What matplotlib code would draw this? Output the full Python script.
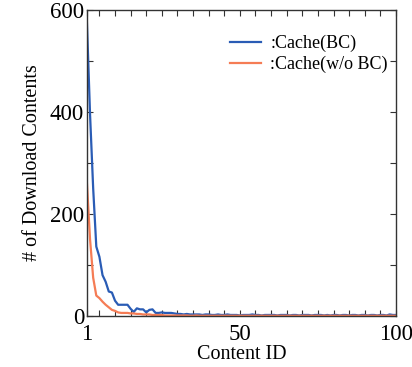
import numpy as np
import matplotlib
matplotlib.use('Agg')
import matplotlib.pyplot as plt
from matplotlib.ticker import MultipleLocator

# ==============================================================================
# Data (Content ID 1..100)
# ==============================================================================
content_id = np.arange(1, 101)

cache_bc = np.array([
    575, 395, 250, 136, 116, 80, 67, 48, 46, 30,
    22, 22, 22, 22, 14, 8, 15, 13, 13, 7,
    12, 13, 6, 6, 7, 6, 6, 6, 5, 4,
    4, 3, 4, 3, 3, 3, 3, 2, 3, 3,
    2, 2, 3, 2, 2, 3, 2, 2, 2, 1,
    2, 2, 2, 3, 2, 2, 1, 2, 2, 2,
    2, 1, 2, 2, 2, 1, 2, 2, 1, 2,
    2, 2, 1, 2, 2, 2, 1, 2, 1, 2,
    2, 1, 2, 2, 1, 2, 2, 1, 2, 2,
    1, 2, 2, 1, 2, 2, 1, 3, 2, 2,
], dtype=float)

cache_wo_bc = np.array([
    260, 150, 75, 40, 35, 28, 22, 17, 12, 10,
    7, 6, 6, 6, 5, 5, 4, 4, 3, 3,
    3, 2, 2, 2, 2, 1, 1, 1, 1, 1,
    1, 1, 1, 0.5, 0.5, 1, 0.5, 0.5, 0.5, 0.5,
    0.5, 0.5, 0.5, 0.5, 0.5, 0.5, 0.5, 0.5, 0.5, 0.5,
    0.5, 0.5, 0.5, 0.5, 0.5, 0.5, 0.5, 0.5, 0.5, 0.5,
    0.5, 0.5, 0.5, 0.5, 0.5, 0.5, 0.5, 0.5, 0.5, 0.5,
    0.5, 0.5, 0.5, 0.5, 0.5, 0.5, 0.5, 0.5, 0.5, 0.5,
    0.5, 0.5, 0.5, 0.5, 0.5, 0.5, 0.5, 0.5, 0.5, 0.5,
    0.5, 0.5, 0.5, 0.5, 0.5, 0.5, 0.5, 0.5, 0.5, 0.5,
])

x_ticks = [1, 50, 100]
y_ticks = [0, 200, 400, 600]

# ==============================================================================
# Plot
# ==============================================================================
plt.rcParams['font.family'] = ['Liberation Serif', 'DejaVu Serif']

fig = plt.figure(figsize=(4.12, 3.67), dpi=100)
ax = fig.add_axes([0.211, 0.139, 0.750, 0.834])

ax.plot(content_id, cache_bc, color='#2a5cb5', linewidth=1.6, label=':Cache(BC)')
ax.plot(content_id, cache_wo_bc, color='#f57c55', linewidth=1.6, label=':Cache(w/o BC)')

ax.set_xlim(1, 100)
ax.set_ylim(0, 600)
ax.set_xticks(x_ticks)
ax.set_yticks(y_ticks)
ax.xaxis.set_minor_locator(MultipleLocator(5))
ax.yaxis.set_minor_locator(MultipleLocator(100))
ax.tick_params(which='both', direction='in', top=True, right=True,
               length=4, width=0.8, color='#333333', labelsize=16.5)
ax.tick_params(axis='x', pad=6)
ax.tick_params(axis='y', pad=2)

for s in ax.spines.values():
    s.set_color('#333333')
    s.set_linewidth(1.0)

ax.set_xlabel('Content ID', fontsize=14.5, labelpad=0)
ax.set_ylabel('# of Download Contents', fontsize=14.5, labelpad=6)

ax.legend(loc='upper right', frameon=False, fontsize=13,
          handlelength=1.7, handletextpad=0.5, labelspacing=0.2,
          borderaxespad=0.4, bbox_to_anchor=(1.02, 0.965))

plt.savefig('out.png', dpi=100)
